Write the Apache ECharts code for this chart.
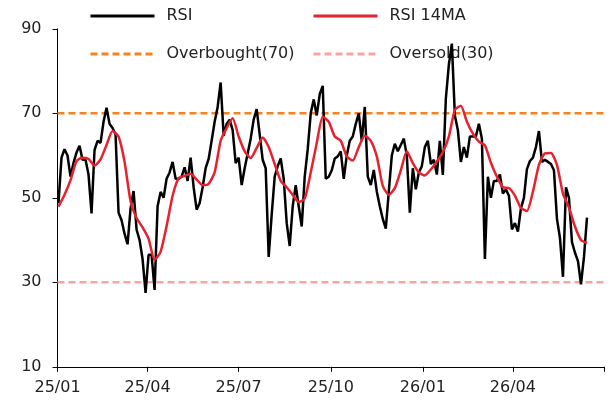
<!DOCTYPE html>
<html>
<head>
<meta charset="utf-8">
<script src="https://cdn.jsdelivr.net/npm/echarts@6/dist/echarts.min.js"></script>
<style>
html, body { margin: 0; padding: 0; background: #fff; }
#chart { width: 614px; height: 405px; }
</style>
</head>
<body>
<div id="chart"></div>
<script>
// RSI, every 3 days from 2025-01-02
const rsiStart = '2025-01-02';
const rsiStep = 3;
const rsiValues = [
  48.7, 59.5, 61.5, 60.0, 55, 58.3, 60.7, 62.3, 59, 59,
  55.5, 46.3, 61.3, 63.5, 63.0, 68, 71.3, 67.5, 66.5, 65,
  46.5, 44.7, 41.5, 39, 47.5, 51.6, 42.5, 40, 35.5, 27.5,
  36.5, 36.5, 28.2, 48, 51.4, 50, 54.5, 56, 58.5, 54.5,
  54.5, 55, 57.2, 54, 59.5, 52.5, 47.2, 48.7, 52.5, 57,
  59.2, 63.5, 68, 71.5, 77.3, 64.7, 67.5, 68.5, 66, 58.2,
  59.5, 53, 57, 60.5, 64, 68.5, 71, 65, 59, 57,
  36, 46, 55, 57.5, 59.3, 54.5, 44, 38.6, 48, 53,
  48, 43.2, 55, 61.5, 70, 73.3, 69.5, 74.5, 76.5, 54.5,
  55, 56.5, 59.3, 59.8, 61, 54.5, 60, 63.5, 64.5, 67.5,
  70, 63.5, 71.5, 55, 53, 56.6, 51.5, 48, 45, 42.7,
  51.5, 60, 62.8, 61, 62.5, 64, 60, 46.5, 57, 52,
  56, 57.5, 62, 63.5, 58, 59, 55.5, 63.5, 55.4, 73.5,
  81.5, 86.5, 69.5, 66, 58.5, 62, 59.5, 64.5, 64.5, 64.5,
  67.5, 64, 35.5, 55, 50, 54, 54, 55.5, 51, 52,
  50.5, 42.5, 44, 42, 47.5, 50, 56.8, 58.7, 59.5, 62,
  65.8, 58.5, 59, 58.5, 58, 56.5, 45, 40.5, 31.3, 52.5,
  50, 39.5, 37, 35, 29.5, 36, 45.3
];

// RSI 14MA, read every 6 days from 2025-01-02
const maStart = '2025-01-02';
const maStep = 6;
const maValues = [
  47.9, 50.7, 54.2, 58.7, 59.5, 59.2, 57.6, 59.1, 62.5, 65.8,
  64.5, 58.5, 49.2, 45.2, 43, 40.3, 35.3, 37.2, 43.3, 50.5,
  54.6, 55.2, 55.7, 54.3, 53, 53.3, 56, 63.5, 66.5, 68.8,
  64.5, 61, 59.4, 61.8, 64.3, 62, 58, 54, 52.5, 50.7,
  49, 49.8, 56, 63, 69.2, 68, 64.5, 63.5, 59.8, 58.8,
  62, 64.7, 63.5, 59.8, 52.8, 50.7, 52.3, 56.5, 61, 58.2,
  56, 55.3, 56.7, 58.6, 60.8, 64.5, 70.8, 71.8, 68, 65.2,
  63.3, 62.4, 58.3, 55, 52.5, 52.3, 50.5, 47.6, 46.9, 51.5,
  57.8, 60.5, 60.6, 57.8, 51, 47.7, 43.2, 40, 39.3
];

const overbought = 70;
const oversold = 30;
const quarterTicks = ['2025-01-01', '2025-04-01', '2025-07-01', '2025-10-01', '2026-01-01', '2026-04-01', '2026-07-01'];
const yMin = 10, yMax = 90, yStep = 20;

const FONT = 'DejaVu Sans';
const TEXT = '#222';

const toDate = s => {
  const p = s.split('-').map(Number);
  return new Date(p[0], p[1] - 1, p[2]);
};
const series = (start, step, vals) => {
  const d0 = toDate(start);
  return vals.map((v, i) => [new Date(d0.getFullYear(), d0.getMonth(), d0.getDate() + i * step).getTime(), v]);
};

const quarterTs = quarterTicks.map(s => toDate(s).getTime());
const xMin = quarterTs[0];
const xMax = quarterTs[quarterTs.length - 1];

const chart = echarts.init(document.getElementById('chart'));

const legendText = { fontFamily: FONT, fontSize: 16, color: TEXT, padding: [0, 0, 0, 7] };
const mkLegend = (name, left, top, z) => ({
  data: [name], left: left, top: top, padding: 0,
  itemWidth: 64, itemHeight: 14,
  itemStyle: { opacity: 0 },      // line only, no symbol in the key
  lineStyle: { width: 3 },
  textStyle: legendText, selectedMode: false, z: z
});

chart.setOption({
  animation: false,
  legend: [
    mkLegend('RSI', 89, 8, 4),
    mkLegend('RSI 14MA', 312, 8, 4),
    mkLegend('Overbought(70)', 89, 46, 4),
    mkLegend('Oversold(30)', 312, 46, 0)
  ],
  grid: { left: 57.5, right: 10, top: 28.8, bottom: 38.2, containLabel: false },
  xAxis: {
    // dates as timestamps on a value axis so the quarter ticks can be placed exactly
    type: 'value',
    min: xMin,
    max: xMax,
    axisLine: { lineStyle: { color: '#000', width: 1 } },
    axisTick: { show: true, length: 5, customValues: quarterTs, lineStyle: { color: '#000' } },
    axisLabel: {
      customValues: quarterTs.slice(0, -1),
      fontFamily: FONT, fontSize: 16, color: TEXT, margin: 13,
      formatter: v => {
        const d = new Date(v);
        return String(d.getFullYear()).slice(2) + '/' + String(d.getMonth() + 1).padStart(2, '0');
      }
    },
    splitLine: { show: false }
  },
  yAxis: {
    type: 'value',
    min: yMin, max: yMax, interval: yStep,
    axisLine: { show: true, lineStyle: { color: '#000', width: 1 } },
    axisTick: { show: true, length: 5, lineStyle: { color: '#000' } },
    axisLabel: { fontFamily: FONT, fontSize: 16, color: TEXT, margin: 16 },
    splitLine: { show: false }
  },
  series: [
    {
      name: 'Overbought(70)', type: 'line', symbol: 'none', silent: true, z: 1,
      data: [[xMin, overbought], [xMax, overbought]],
      lineStyle: { color: '#F5821F', width: 2.5, type: [7, 4] },
      itemStyle: { color: '#F5821F' }
    },
    {
      name: 'Oversold(30)', type: 'line', symbol: 'none', silent: true, z: 1,
      data: [[xMin, oversold], [xMax, oversold]],
      lineStyle: { color: '#F9A3A3', width: 2.5, type: [7, 4] },
      itemStyle: { color: '#F9A3A3' }
    },
    {
      name: 'RSI', type: 'line', symbol: 'none', z: 2,
      data: series(rsiStart, rsiStep, rsiValues),
      lineStyle: { color: '#000', width: 2.5 },
      itemStyle: { color: '#000' }
    },
    {
      name: 'RSI 14MA', type: 'line', symbol: 'none', z: 3, smooth: 0.2,
      data: series(maStart, maStep, maValues),
      lineStyle: { color: '#E8212E', width: 2.5 },
      itemStyle: { color: '#E8212E' }
    }
  ]
});
</script>
</body>
</html>
